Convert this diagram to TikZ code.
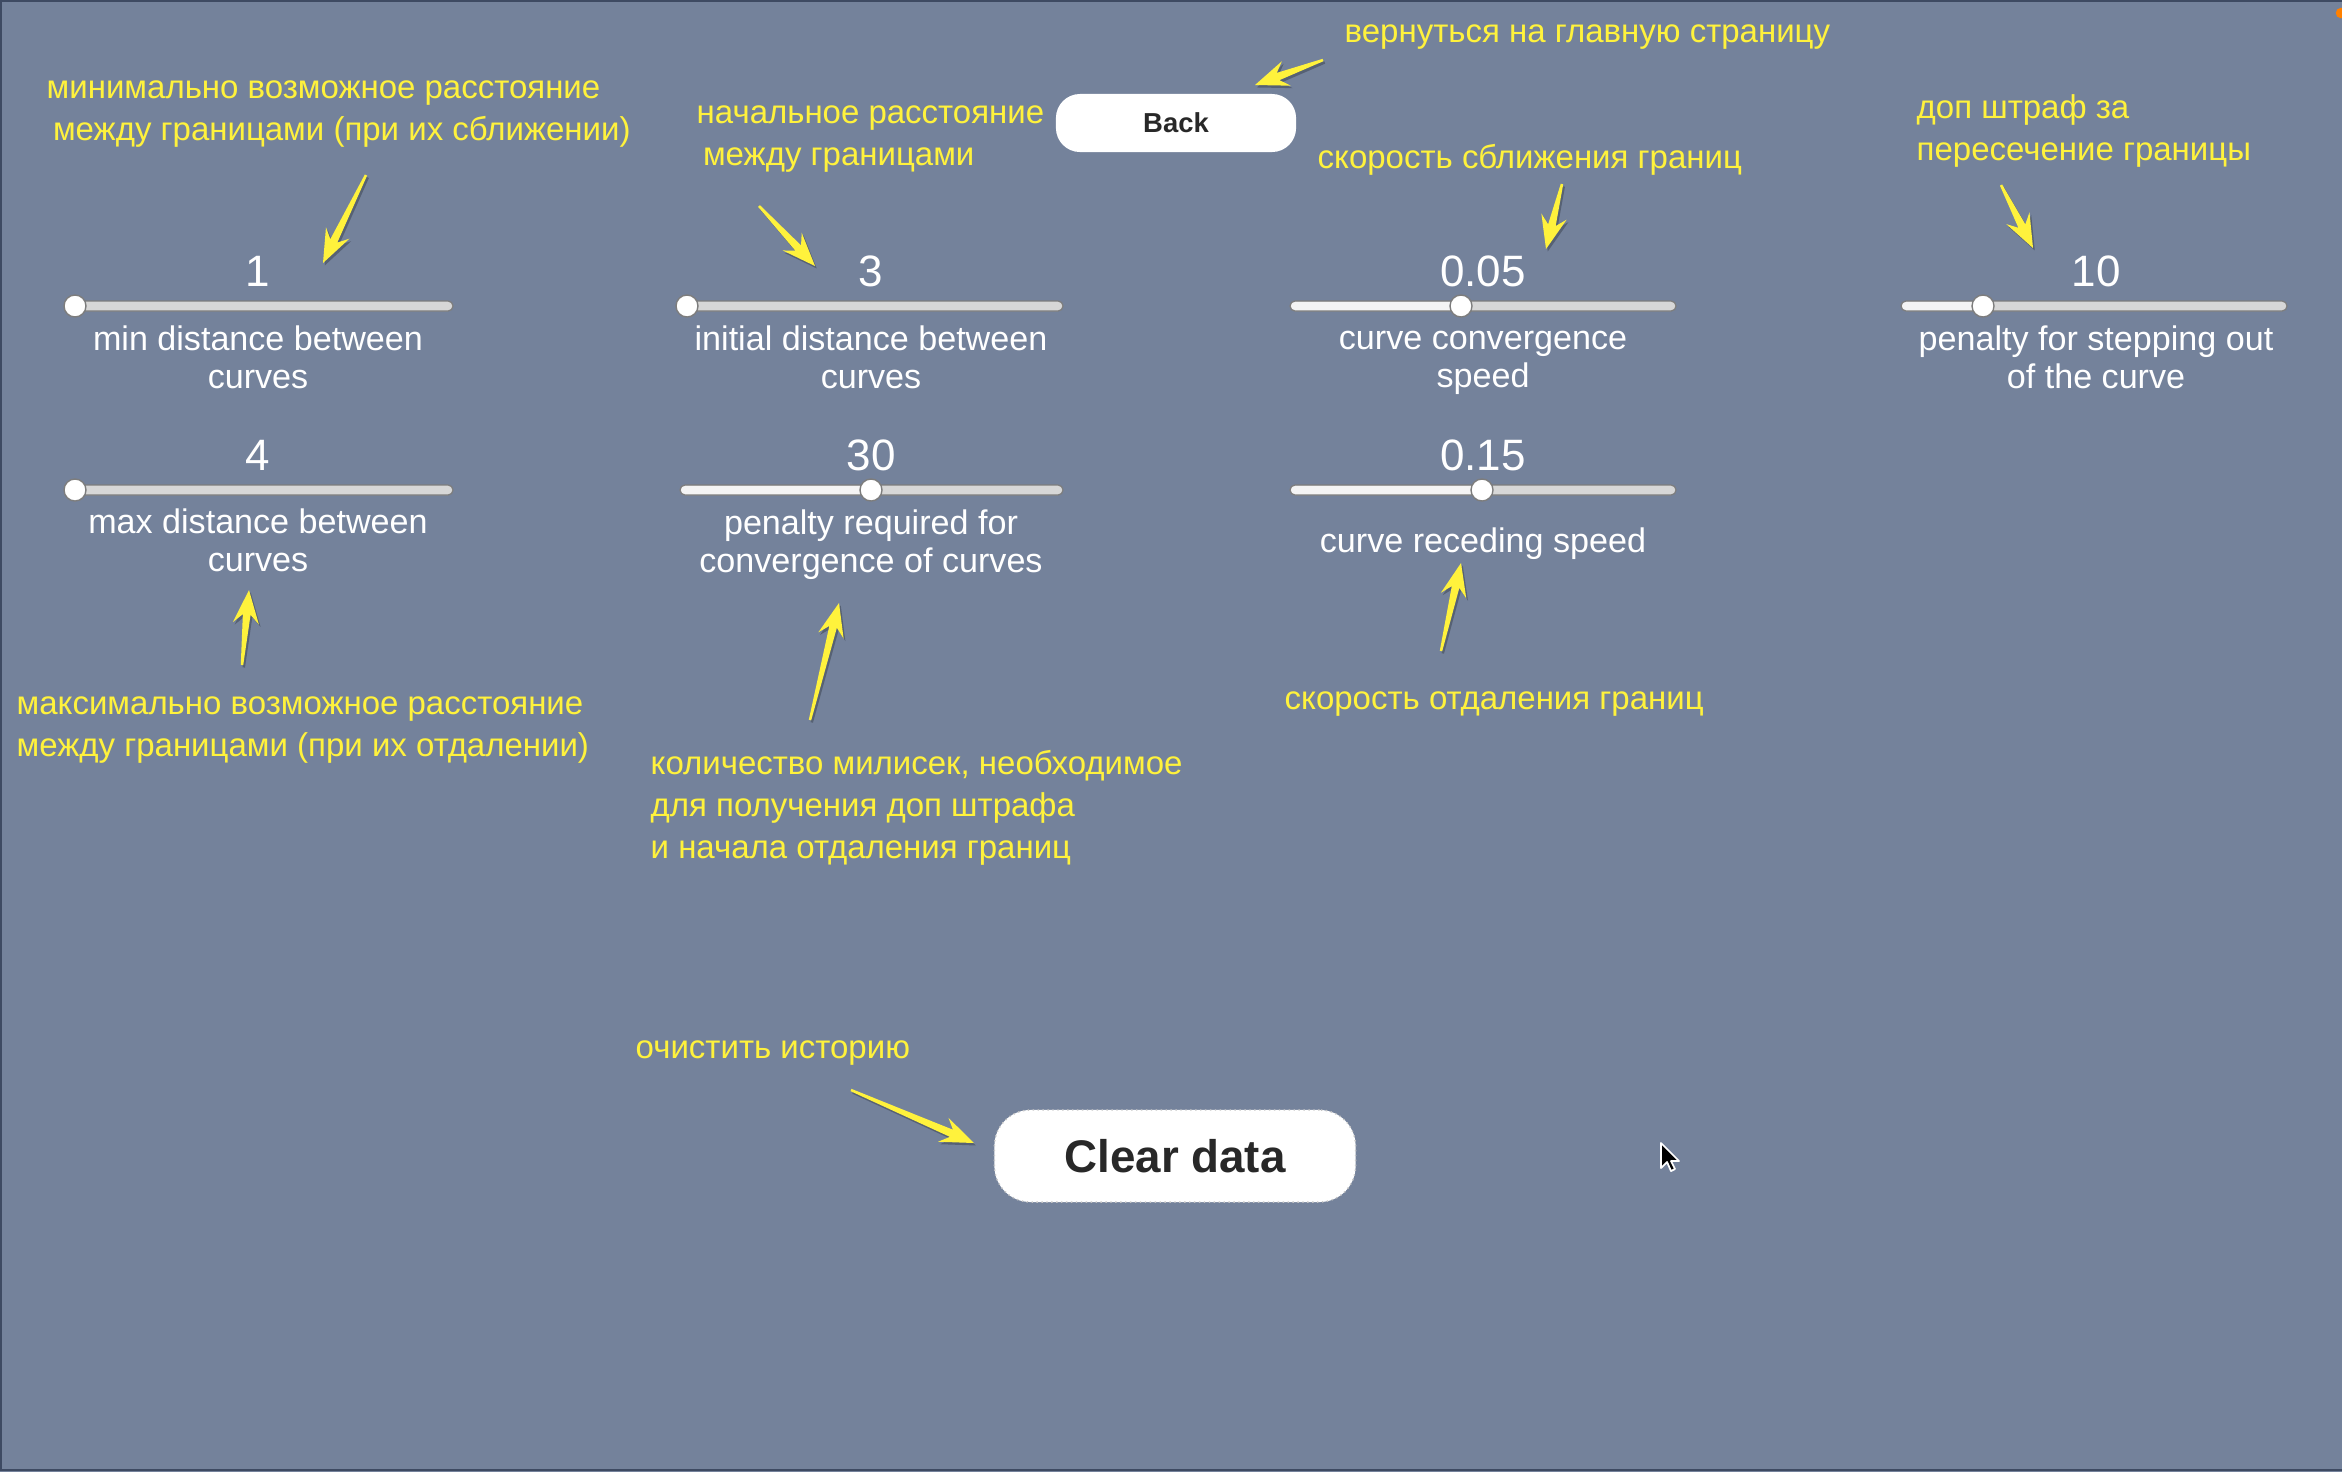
\documentclass[tikz,border=0pt]{standalone}
\usepackage{fontspec}
\setmainfont{Liberation Sans}
\usetikzlibrary{calc}
\definecolor{bg}{RGB}{116,130,155}
\definecolor{frame}{RGB}{62,74,98}
\definecolor{ylw}{RGB}{255,242,60}
\definecolor{trackgray}{RGB}{215,215,215}
\definecolor{trackwhite}{RGB}{244,244,244}
\definecolor{trackedge}{RGB}{125,125,125}
\definecolor{txtdark}{RGB}{40,40,40}

\newcommand\slidertrack[5]{% name, left, right, y, knob x
  \draw[trackedge, line width=0.35pt, fill=trackgray, rounded corners=1.4pt] (#2,#4-5) rectangle (#3,#4+5);
  \fill[trackwhite, rounded corners=1.2pt] (#2+1,#4-4) rectangle (#5,#4+4);
  \node[knob] (#1) at (#5,#4) {};
}
\newcommand\calloutshape[2]{%
  ($(#1)!0.35pt!90:(#2)$) --
  ($(#2)!7pt!(#1)!1.1pt!-90:(#1)$) --
  ($(#2)!9.5pt!(#1)!3.7pt!-90:(#1)$) --
  (#2) --
  ($(#2)!9.5pt!(#1)!3.7pt!90:(#1)$) --
  ($(#2)!7pt!(#1)!1.1pt!90:(#1)$) --
  ($(#1)!0.35pt!-90:(#2)$) -- cycle}
\newcommand\callout[2]{%
  \fill[black, opacity=0.25, transform canvas={shift={(0.5pt,-0.7pt)}}] \calloutshape{#1}{#2};
  \fill[ylw] \calloutshape{#1}{#2};
}

\begin{document}
\begin{tikzpicture}[x=0.01cm,y=-0.01cm,
  ann/.style={text=ylw, font=\fontsize{9.38}{11.9}\selectfont, align=left, anchor=west, inner sep=0pt},
  val/.style={text=white, font=\fontsize{12.5}{14}\selectfont, inner sep=0pt},
  lab/.style={text=white, font=\fontsize{9.7}{10.8}\selectfont, align=center, inner sep=0pt},
  knob/.style={circle, fill=white, draw=trackedge, line width=0.4pt, minimum size=0.22cm, inner sep=0pt},
  btn/.style={fill=white, text=txtdark, inner sep=0pt}
  ]
\fill[bg] (0,0) rectangle (2342,1472);
\useasboundingbox (0,0) rectangle (2342,1472);
\draw[frame, line width=0.6pt] (2342,1) -- (1,1) -- (1,1470) -- (2342,1470);
\fill[orange] (2341,13) circle[radius=1.5pt];

% sliders row 1
\slidertrack{k1}{67}{453}{306}{75}
\slidertrack{k2}{680}{1063}{306}{687}
\slidertrack{k3}{1290}{1676}{306}{1461}
\slidertrack{k4}{1901}{2287}{306}{1983}
% sliders row 2
\slidertrack{k5}{67}{453}{490}{75}
\slidertrack{k6}{680}{1063}{490}{871}
\slidertrack{k7}{1290}{1676}{490}{1482}

% values
\node[val] (v1) at (258,271) {1};
\node[val] (v2) at (871,271) {3};
\node[val] (v3) at (1483,271) {0.05};
\node[val] (v4) at (2096,271) {10};
\node[val] (v5) at (258,455) {4};
\node[val] (v6) at (871,455) {30};
\node[val] (v7) at (1483,455) {0.15};

% labels
\node[lab] (l1) at (258,357) {min distance between\\curves};
\node[lab] (l2) at (871,357) {initial distance between\\curves};
\node[lab] (l3) at (1483,363) {curve convergence\\speed};
\node[lab] (l4) at (2096,357) {penalty for stepping out\\of the curve};
\node[lab] (l5) at (258,540) {max distance between\\curves};
\node[lab] (l6) at (871,545) {penalty required for\\convergence of curves};
\node[lab] (l7) at (1483,544) {curve receding speed};

% buttons
\node[btn, minimum width=2.40cm, minimum height=0.58cm, rounded corners=0.24cm,
      font=\bfseries\fontsize{7.8}{9}\selectfont] (back) at (1176,123) {Back};
\node[btn, draw=gray!45, densely dotted, line width=0.4pt, minimum width=3.61cm, minimum height=0.92cm, rounded corners=0.36cm,
      font=\bfseries\fontsize{13}{15}\selectfont] (clear) at (1175,1156) {Clear data};

% annotations
\node[ann] (a1) at (46,114) {минимально возможное расстояние\\\hspace{1.8pt}между границами (при их сближении)};
\node[ann] (a2) at (696,139) {начальное расстояние\\\hspace{1.8pt}между границами};
\node[ann] (a3) at (1344,37) {вернуться на главную страницу};
\node[ann] (a4) at (1317,160) {скорость сближения границ};
\node[ann] (a5) at (1916,131) {доп штраф за\\пересечение границы};
\node[ann] (a6) at (16,730) {максимально возможное расстояние\\между границами (при их отдалении)};
\node[ann] (a7) at (650,808) {количество милисек, необходимое\\для получения доп штрафа\\и начала отдаления границ};
\node[ann] (a8) at (1284,704) {скорость отдаления границ};
\node[ann] (a9) at (635,1053) {очистить историю};

% arrow end points
\coordinate (t1) at (366,175); \coordinate (h1) at (323,263);
\coordinate (t2) at (759,206); \coordinate (h2) at (815,266);
\coordinate (t3) at (1323,60); \coordinate (h3) at (1255,85);
\coordinate (t4) at (1562,184); \coordinate (h4) at (1546,249);
\coordinate (t5) at (2001,185); \coordinate (h5) at (2033,248);
\coordinate (t6) at (242,665); \coordinate (h6) at (249,590);
\coordinate (t7) at (810,720); \coordinate (h7) at (839,603);
\coordinate (t8) at (1441,651); \coordinate (h8) at (1461,563);
\coordinate (t9) at (851,1090); \coordinate (h9) at (974,1143);
\callout{t1}{h1}
\callout{t2}{h2}
\callout{t3}{h3}
\callout{t4}{h4}
\callout{t5}{h5}
\callout{t6}{h6}
\callout{t7}{h7}
\callout{t8}{h8}
\callout{t9}{h9}

% mouse cursor
\begin{scope}[shift={(1661,1143)}]
\draw[white, fill=black, line width=0.5pt, line join=round]
  (0,0) -- (0,25) -- (6,19) -- (10,28) -- (14,26) -- (10,18) -- (18,18) -- cycle;
\end{scope}
\end{tikzpicture}
\end{document}
